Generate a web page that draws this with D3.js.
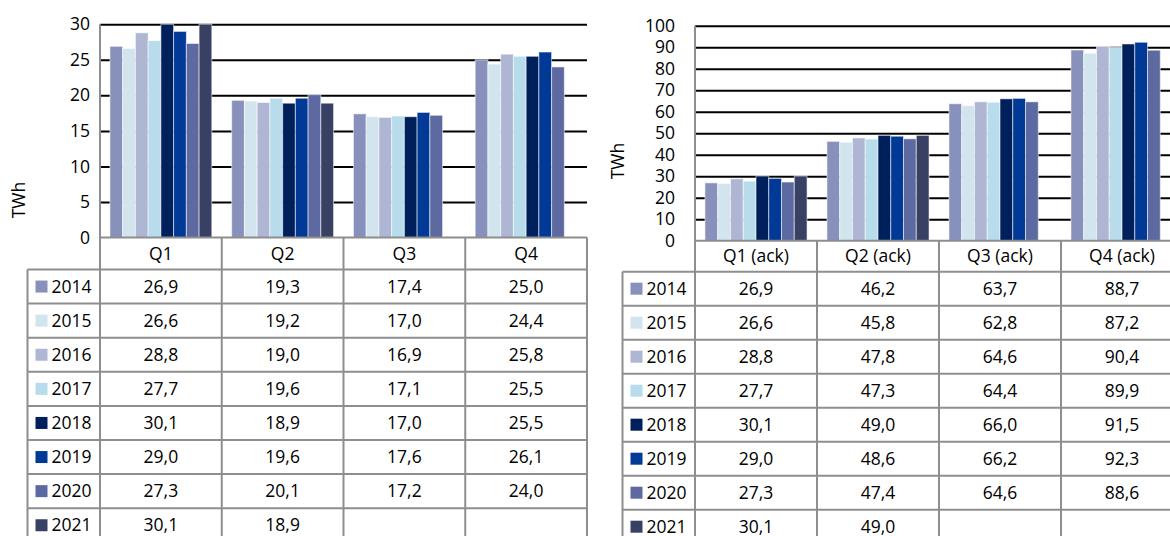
<!DOCTYPE html>
<html>
<head>
<meta charset="utf-8">
<script src="https://cdn.jsdelivr.net/npm/d3@7"></script>
<style>
  body { margin: 0; background: #fff; }
  svg text { font-family: "Open Sans", "Noto Sans", sans-serif; fill: #000; }
</style>
</head>
<body>
<svg id="chart" width="1170" height="536"></svg>
<script>
const years = ["2014", "2015", "2016", "2017", "2018", "2019", "2020", "2021"];
const yearColors = ["#8891bb", "#d2e4ee", "#afb6d3", "#b8dcec", "#00205c", "#003996", "#5c6aa1", "#384163"];
const quarters = ["Q1", "Q2", "Q3", "Q4"];
const quartersAck = ["Q1 (ack)", "Q2 (ack)", "Q3 (ack)", "Q4 (ack)"];

// one row per year, one value per quarter (null = not yet reported)
const quarterValues = [
    [26.9, 19.3, 17.4, 25.0],
    [26.6, 19.2, 17.0, 24.4],
    [28.8, 19.0, 16.9, 25.8],
    [27.7, 19.6, 17.1, 25.5],
    [30.1, 18.9, 17.0, 25.5],
    [29.0, 19.6, 17.6, 26.1],
    [27.3, 20.1, 17.2, 24.0],
    [30.1, 18.9, null, null]
];
const cumulativeValues = [
    [26.9, 46.2, 63.7, 88.7],
    [26.6, 45.8, 62.8, 87.2],
    [28.8, 47.8, 64.6, 90.4],
    [27.7, 47.3, 64.4, 89.9],
    [30.1, 49.0, 66.0, 91.5],
    [29.0, 48.6, 66.2, 92.3],
    [27.3, 47.4, 64.6, 88.6],
    [30.1, 49.0, null, null]
];
const quarterTicks = [0, 5, 10, 15, 20, 25, 30];
const cumulativeTicks = [0, 10, 20, 30, 40, 50, 60, 70, 80, 90, 100];

const GRID_COLOR = "#000";
const TABLE_COLOR = "#8e8e8e";
const FONT_SIZE = "17.5px";

const sv = d3.formatLocale({ decimal: ",", thousands: " ", grouping: [3], currency: ["", " kr"] });
const fmt = sv.format(".1f");

const svg = d3.select("#chart");

// Draws one column chart with its data table underneath.
const drawPanel = cfg => {
    const g = svg.append("g");
    const innerW = cfg.right - cfg.left;

    const xScale = d3.scaleBand()
        .domain(cfg.categories)
        .range([cfg.left, cfg.right]);

    const xYear = d3.scaleBand()
        .domain(years)
        .range([0, xScale.bandwidth()])
        .paddingInner(0)
        .paddingOuter(0.78);

    const yScale = d3.scaleLinear()
        .domain([0, d3.max(cfg.ticks)])
        .range([cfg.bottom, cfg.top])
        .clamp(true);

    // Gridlines and tick labels
    const axis = g.append("g")
        .attr("transform", `translate(${cfg.left}, 0)`)
        .call(d3.axisLeft(yScale)
            .tickValues(cfg.ticks)
            .tickSize(-innerW)
            .tickPadding(cfg.labelPad)
            .tickFormat(d3.format("d")));
    axis.select(".domain").remove();
    axis.selectAll(".tick line")
        .attr("stroke", GRID_COLOR)
        .attr("stroke-width", 2)
        .filter(d => d === 0).remove();
    axis.selectAll(".tick text")
        .attr("font-family", null)
        .style("font-size", FONT_SIZE);

    g.append("text")
        .attr("transform", `translate(${cfg.titleX}, ${cfg.titleY}) rotate(-90)`)
        .attr("text-anchor", "middle")
        .attr("dy", "0.35em")
        .style("font-size", FONT_SIZE)
        .text("TWh");

    // Bars, flattened from the year rows
    const bars = [];
    cfg.values.forEach((row, i) => {
        row.forEach((v, j) => {
            if (v !== null) bars.push({ year: years[i], cat: cfg.categories[j], value: v, color: yearColors[i] });
        });
    });

    g.append("g")
        .selectAll("rect")
        .data(bars)
        .join("rect")
        .attr("x", d => xScale(d.cat) + xYear(d.year))
        .attr("y", d => yScale(d.value))
        .attr("width", xYear.bandwidth())
        .attr("height", d => yScale(0) - yScale(d.value))
        .attr("fill", d => d.color)
        .attr("stroke", "#fff")
        .attr("stroke-opacity", 0.55)
        .attr("stroke-width", 1);

    // Data table
    const rowTops = d3.range(years.length + 1).map(i => cfg.tableTop + i * cfg.rowH);
    const tableBottom = cfg.tableTop + years.length * cfg.rowH;
    const lines = g.append("g")
        .attr("stroke", TABLE_COLOR)
        .attr("stroke-width", 2);

    lines.append("line")
        .attr("x1", cfg.left).attr("x2", cfg.right)
        .attr("y1", cfg.bottom).attr("y2", cfg.bottom);
    lines.selectAll(".row-line")
        .data(rowTops)
        .join("line")
        .attr("class", "row-line")
        .attr("x1", cfg.legendLeft).attr("x2", cfg.right)
        .attr("y1", d => d).attr("y2", d => d);
    lines.append("line")
        .attr("x1", cfg.left).attr("x2", cfg.left)
        .attr("y1", cfg.top).attr("y2", tableBottom);
    lines.append("line")
        .attr("x1", cfg.legendLeft).attr("x2", cfg.legendLeft)
        .attr("y1", cfg.tableTop).attr("y2", tableBottom);
    lines.selectAll(".col-line")
        .data(cfg.categories)
        .join("line")
        .attr("class", "col-line")
        .attr("x1", d => xScale(d) + xScale.bandwidth())
        .attr("x2", d => xScale(d) + xScale.bandwidth())
        .attr("y1", cfg.bottom).attr("y2", tableBottom);

    // Header row with category names
    g.append("g")
        .selectAll("text")
        .data(cfg.categories)
        .join("text")
        .attr("x", d => xScale(d) + xScale.bandwidth() / 2)
        .attr("y", (cfg.bottom + cfg.tableTop) / 2)
        .attr("dy", "0.35em")
        .attr("text-anchor", "middle")
        .style("font-size", FONT_SIZE)
        .text(d => d);

    // Legend cells
    const legend = g.append("g")
        .selectAll("g")
        .data(years)
        .join("g")
        .attr("transform", (d, i) => `translate(${cfg.legendLeft}, ${rowTops[i] + cfg.rowH / 2})`);
    legend.append("rect")
        .attr("x", 8).attr("y", -6)
        .attr("width", 12).attr("height", 12)
        .attr("fill", (d, i) => yearColors[i]);
    legend.append("text")
        .attr("x", 24)
        .attr("dy", "0.35em")
        .style("font-size", FONT_SIZE)
        .text(d => d);

    // Value cells
    const cells = [];
    cfg.values.forEach((row, i) => {
        row.forEach((v, j) => {
            if (v !== null) cells.push({ row: i, cat: cfg.categories[j], value: v });
        });
    });
    g.append("g")
        .selectAll("text")
        .data(cells)
        .join("text")
        .attr("x", d => xScale(d.cat) + xScale.bandwidth() / 2)
        .attr("y", d => rowTops[d.row] + cfg.rowH / 2)
        .attr("dy", "0.35em")
        .attr("text-anchor", "middle")
        .style("font-size", FONT_SIZE)
        .text(d => fmt(d.value));
};

drawPanel({
    categories: quarters,
    values: quarterValues,
    ticks: quarterTicks,
    left: 100, right: 587,
    top: 24.3, bottom: 237.5,
    tableTop: 269.5, rowH: 34.1,
    legendLeft: 27.5,
    labelPad: 10,
    titleX: 19, titleY: 200
});

drawPanel({
    categories: quartersAck,
    values: cumulativeValues,
    ticks: cumulativeTicks,
    left: 695, right: 1183,
    top: 25.7, bottom: 240.7,
    tableTop: 271.7, rowH: 34,
    legendLeft: 622.5,
    labelPad: 20,
    titleX: 618, titleY: 161
});
</script>
</body>
</html>
